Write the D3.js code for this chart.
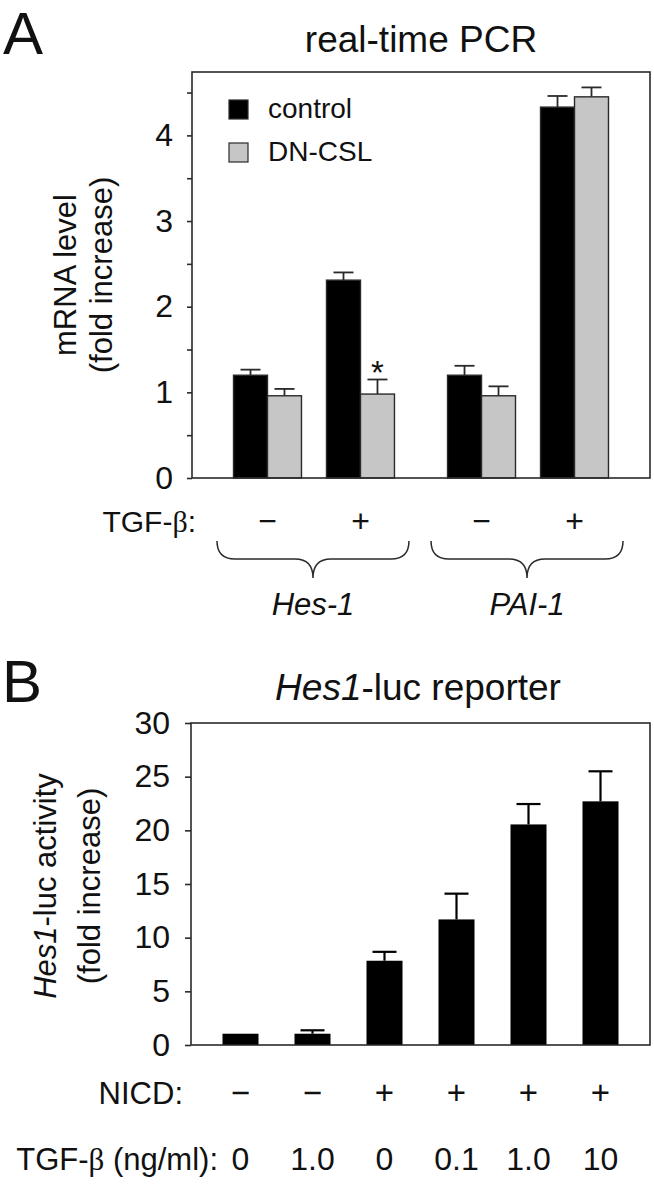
<!DOCTYPE html>
<html>
<head>
<meta charset="utf-8">
<script src="https://cdn.jsdelivr.net/npm/d3@7"></script>
<style>
  body { margin: 0; background: #fff; }
  text { font-family: 'Liberation Sans', Arial, sans-serif; fill: #111; }
</style>
</head>
<body>
<svg id="canvas" width="654" height="1200"></svg>
<script>
// panel A: real-time PCR
const genes = ['Hes-1', 'PAI-1'];
const tgfA = ['\u2212', '+'];
const seriesA = ['control', 'DN-CSL'];
// order: Hes-1 -, Hes-1 +, PAI-1 -, PAI-1 +
const controlMean = [1.2, 2.31, 1.2, 4.33];
const controlErr = [0.065, 0.09, 0.11, 0.13];
const dnMean = [0.96, 0.98, 0.96, 4.45];
const dnErr = [0.08, 0.17, 0.11, 0.11];
const ticksA = [0, 0.5, 1, 1.5, 2, 2.5, 3, 3.5, 4, 4.5];

// panel B: Hes1-luc reporter
const nicd = ['\u2212', '\u2212', '+', '+', '+', '+'];
const tgfDose = ['0', '1.0', '0', '0.1', '1.0', '10'];
const lucMean = [1.05, 1.05, 7.85, 11.7, 20.55, 22.7];
const lucErr = [0, 0.32, 0.83, 2.4, 1.9, 2.8];
const ticksB = [0, 5, 10, 15, 20, 25, 30];

const svg = d3.select('#canvas');
const ink = '#2a2a2a';

// ---------- A ----------
let yA = d3.scaleLinear().domain([0, 4.74]).range([478, 72]);
let x0 = d3.scaleBand().domain(genes).range([192, 650])
  .paddingInner(0.131).paddingOuter(0.1355);
let x1 = d3.scaleBand().domain(tgfA).range([0, x0.bandwidth()]);
let x2 = d3.scaleBand().domain(seriesA).range([0, x1.bandwidth()])
  .paddingOuter(0.368);

let rowsA = [];
genes.forEach((g, gi) => {
  tgfA.forEach((t, ti) => {
    let i = gi * 2 + ti;
    rowsA.push({ gene: g, tgf: t, series: 'control', mean: controlMean[i], err: controlErr[i] });
    rowsA.push({ gene: g, tgf: t, series: 'DN-CSL', mean: dnMean[i], err: dnErr[i] });
  });
});
let barX = d => x0(d.gene) + x1(d.tgf) + x2(d.series);
let fillA = d => d.series === 'control' ? '#000' : '#c6c6c6';

svg.append('text').attr('x', 3).attr('y', 54)
  .style('font-size', '60px').text('A');
svg.append('text').attr('x', 421).attr('y', 52).attr('text-anchor', 'middle')
  .style('font-size', '37px').text('real-time PCR');

let axA = svg.append('g').attr('transform', 'translate(192,0)')
  .call(d3.axisLeft(yA).tickValues(ticksA).tickSize(5).tickSizeOuter(0).tickPadding(14)
    .tickFormat(d => Number.isInteger(d) ? d : ''));
axA.select('.domain').remove();
axA.selectAll('line').attr('stroke', ink).attr('stroke-width', 1.6);
axA.selectAll('text').style('font-size', '32px').attr('fill', '#111')
  .style('font-family', "'Liberation Sans', Arial, sans-serif");

svg.append('g').selectAll('rect').data(rowsA).join('rect')
  .attr('x', barX)
  .attr('y', d => yA(d.mean))
  .attr('width', x2.bandwidth())
  .attr('height', d => yA(0) - yA(d.mean))
  .attr('fill', fillA)
  .attr('stroke', ink).attr('stroke-width', 1.4);

let errA = svg.append('g').attr('stroke', ink).attr('stroke-width', 1.8);
errA.selectAll('line.v').data(rowsA).join('line').attr('class', 'v')
  .attr('x1', d => barX(d) + x2.bandwidth() / 2)
  .attr('x2', d => barX(d) + x2.bandwidth() / 2)
  .attr('y1', d => yA(d.mean))
  .attr('y2', d => yA(d.mean + d.err));
errA.selectAll('line.c').data(rowsA).join('line').attr('class', 'c')
  .attr('x1', d => barX(d) + x2.bandwidth() / 2 - 10)
  .attr('x2', d => barX(d) + x2.bandwidth() / 2 + 10)
  .attr('y1', d => yA(d.mean + d.err))
  .attr('y2', d => yA(d.mean + d.err));

// star over DN-CSL with TGF
let starRow = rowsA[3];
svg.append('text')
  .attr('x', barX(starRow) + x2.bandwidth() / 2)
  .attr('y', yA(starRow.mean + starRow.err) + 5)
  .attr('text-anchor', 'middle').style('font-size', '33px').text('*');

svg.append('rect').attr('x', 192).attr('y', 72)
  .attr('width', 458).attr('height', 406)
  .attr('fill', 'none').attr('stroke', ink).attr('stroke-width', 1.6);

// legend
let legA = svg.append('g');
seriesA.forEach((s, i) => {
  legA.append('rect').attr('x', 229).attr('y', 100 + i * 43)
    .attr('width', 19).attr('height', 19)
    .attr('fill', i === 0 ? '#000' : '#c6c6c6')
    .attr('stroke', ink).attr('stroke-width', 1.2);
  legA.append('text').attr('x', 268).attr('y', 118 + i * 43)
    .style('font-size', '28px').text(s);
});

// y label A
let ylabA = svg.append('text').attr('transform', 'translate(0,275) rotate(-90)')
  .attr('text-anchor', 'middle').style('font-size', '31px');
ylabA.append('tspan').attr('x', 0).attr('y', 76).text('mRNA level');
ylabA.append('tspan').attr('x', 0).attr('y', 112).text('(fold increase)');

// TGF row A
let tgfLabA = svg.append('text').attr('x', 196).attr('y', 532)
  .attr('text-anchor', 'end').style('font-size', '30px');
tgfLabA.append('tspan').text('TGF-');
tgfLabA.append('tspan').style('font-family', "'Liberation Serif', serif").text('\u03b2');
tgfLabA.append('tspan').text(':');

genes.forEach(g => {
  tgfA.forEach(t => {
    svg.append('text').attr('x', x0(g) + x1(t) + x1.bandwidth() / 2).attr('y', 532)
      .attr('text-anchor', 'middle').style('font-size', '32px').text(t);
  });
});

// braces
let brace = (a, b) => {
  let c = (a + b) / 2, top = 541, mid = 559, tip = 578, r = 18;
  return 'M' + a + ',' + top +
    'Q' + a + ',' + mid + ' ' + (a + r) + ',' + mid +
    'L' + (c - r) + ',' + mid +
    'Q' + c + ',' + mid + ' ' + c + ',' + tip +
    'Q' + c + ',' + mid + ' ' + (c + r) + ',' + mid +
    'L' + (b - r) + ',' + mid +
    'Q' + b + ',' + mid + ' ' + b + ',' + top;
};
genes.forEach(g => {
  let a = x0(g) - 4, b = x0(g) + x0.bandwidth() + 2;
  svg.append('path').attr('d', brace(a, b))
    .attr('fill', 'none').attr('stroke', ink).attr('stroke-width', 1.5);
  svg.append('text').attr('x', (a + b) / 2).attr('y', 615)
    .attr('text-anchor', 'middle').style('font-size', '31px')
    .style('font-style', 'italic').text(g);
});

// ---------- B ----------
let yB = d3.scaleLinear().domain([0, 30]).range([1045, 723]);
let xB = d3.scaleBand().domain(d3.range(lucMean.length)).range([191, 650])
  .paddingInner(0.5).paddingOuter(0.4375);

svg.append('text').attr('x', 2).attr('y', 702)
  .style('font-size', '60px').text('B');
let titleB = svg.append('text').attr('x', 418).attr('y', 700)
  .attr('text-anchor', 'middle').style('font-size', '37px');
titleB.append('tspan').style('font-style', 'italic').text('Hes1');
titleB.append('tspan').text('-luc reporter');

let axB = svg.append('g').attr('transform', 'translate(191,0)')
  .call(d3.axisLeft(yB).tickValues(ticksB).tickSize(6).tickSizeOuter(0).tickPadding(15));
axB.select('.domain').remove();
axB.selectAll('line').attr('stroke', ink).attr('stroke-width', 1.6);
axB.selectAll('text').style('font-size', '32px').attr('fill', '#111')
  .style('font-family', "'Liberation Sans', Arial, sans-serif");

svg.append('g').selectAll('rect').data(lucMean).join('rect')
  .attr('x', (d, i) => xB(i))
  .attr('y', d => yB(d))
  .attr('width', xB.bandwidth())
  .attr('height', d => yB(0) - yB(d))
  .attr('fill', '#000');

let errB = svg.append('g').attr('stroke', '#000').attr('stroke-width', 2.2);
lucMean.forEach((m, i) => {
  if (!lucErr[i]) return;
  let cx = xB(i) + xB.bandwidth() / 2;
  errB.append('line').attr('x1', cx).attr('x2', cx)
    .attr('y1', yB(m)).attr('y2', yB(m + lucErr[i]));
  errB.append('line').attr('x1', cx - 12).attr('x2', cx + 12)
    .attr('y1', yB(m + lucErr[i])).attr('y2', yB(m + lucErr[i]));
});

svg.append('rect').attr('x', 191).attr('y', 723)
  .attr('width', 459).attr('height', 322)
  .attr('fill', 'none').attr('stroke', ink).attr('stroke-width', 1.6);

let ylabB = svg.append('text').attr('transform', 'translate(0,886) rotate(-90)')
  .attr('text-anchor', 'middle').style('font-size', '31px');
let l1 = ylabB.append('tspan').attr('x', 0).attr('y', 56);
l1.append('tspan').style('font-style', 'italic').text('Hes1');
l1.append('tspan').text('-luc activity');
ylabB.append('tspan').attr('x', 0).attr('y', 100).text('(fold increase)');

svg.append('text').attr('x', 183).attr('y', 1104).attr('text-anchor', 'end')
  .style('font-size', '31px').text('NICD:');
let tgfLabB = svg.append('text').attr('x', 218).attr('y', 1170)
  .attr('text-anchor', 'end').style('font-size', '31px');
tgfLabB.append('tspan').text('TGF-');
tgfLabB.append('tspan').style('font-family', "'Liberation Serif', serif").text('\u03b2');
tgfLabB.append('tspan').text(' (ng/ml):');

svg.append('g').selectAll('text').data(nicd).join('text')
  .attr('x', (d, i) => xB(i) + xB.bandwidth() / 2).attr('y', 1104)
  .attr('text-anchor', 'middle').style('font-size', '33px').text(d => d);
svg.append('g').selectAll('text').data(tgfDose).join('text')
  .attr('x', (d, i) => xB(i) + xB.bandwidth() / 2).attr('y', 1170)
  .attr('text-anchor', 'middle').style('font-size', '32px').text(d => d);
</script>
</body>
</html>
